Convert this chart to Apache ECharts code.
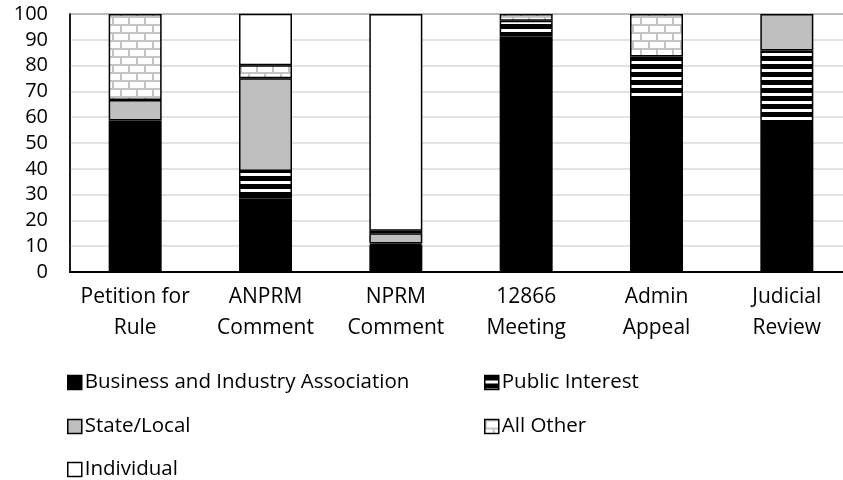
<!DOCTYPE html>
<html>
<head>
<meta charset="utf-8">
<script src="https://cdn.jsdelivr.net/npm/echarts@6/dist/echarts.min.js"></script>
<style>
html,body{margin:0;padding:0;background:#fff;}
#chart{width:843px;height:480px;}
</style>
</head>
<body>
<div id="chart"></div>
<script>
const categories = ['Petition for\nRule', 'ANPRM\nComment', 'NPRM\nComment', '12866\nMeeting', 'Admin\nAppeal', 'Judicial\nReview'];
const business = [58.7, 28.5, 10.5, 91.3, 66.7, 57.4];
const publicInterest = [0, 10.6, 0.5, 6.1, 16.8, 28.5];
const stateLocal = [8, 36, 4, 0, 0, 14.1];
const allOther = [33.3, 5, 1, 2.6, 16.5, 0];
const individual = [0, 20, 84, 0, 0, 0];
const seriesNames = ['Business and Industry Association', 'Public Interest', 'State/Local', 'All Other', 'Individual'];
const yTicks = [0, 10, 20, 30, 40, 50, 60, 70, 80, 90, 100];

const FONT = 'Open Sans';

function stripeCanvas() {
  const c = document.createElement('canvas');
  c.width = 8; c.height = 8;
  const g = c.getContext('2d');
  g.fillStyle = '#fff'; g.fillRect(0, 0, 8, 8);
  g.fillStyle = '#000'; g.fillRect(0, 0, 8, 5);
  return c;
}
function brickCanvas() {
  const c = document.createElement('canvas');
  c.width = 16; c.height = 16;
  const g = c.getContext('2d');
  g.fillStyle = '#fff'; g.fillRect(0, 0, 16, 16);
  g.fillStyle = '#c4c4c4';
  g.fillRect(0, 0, 16, 2);
  g.fillRect(0, 8, 16, 2);
  g.fillRect(0, 0, 2, 8);
  g.fillRect(8, 8, 2, 8);
  return c;
}

const fills = [
  '#000000',
  { image: stripeCanvas(), repeat: 'repeat' },
  '#bfbfbf',
  { image: brickCanvas(), repeat: 'repeat' },
  '#ffffff'
];
const values = [business, publicInterest, stateLocal, allOther, individual];

const chart = echarts.init(document.getElementById('chart'), null, { renderer: 'canvas' });

const series = seriesNames.map((name, i) => ({
  name: name,
  type: 'bar',
  stack: 'total',
  barWidth: 53,
  data: values[i].map(v => (v === 0 ? '-' : v)),
  itemStyle: { color: fills[i], borderColor: '#000', borderWidth: 1.5 },
  emphasis: { disabled: true }
}));

const legendPos = [
  { left: 67, top: 372 },
  { left: 484, top: 372 },
  { left: 67, top: 416 },
  { left: 484, top: 416 },
  { left: 67, top: 459 }
];
const legends = seriesNames.map((name, i) => ({
  data: [name],
  left: legendPos[i].left,
  top: legendPos[i].top,
  padding: 0,
  itemWidth: 14,
  itemHeight: 14,
  itemGap: 0,
  icon: 'rect',
  selectedMode: false,
  itemStyle: { borderColor: '#000', borderWidth: 1.5 },
  textStyle: { fontFamily: FONT, fontSize: 20.5, color: '#000', padding: [0, 0, 0, -2] }
}));

chart.setOption({
  animation: false,
  backgroundColor: '#fff',
  legend: legends,
  grid: {
    left: 70, top: 14, width: 782, height: 258,
    outerBoundsMode: 'none',
    show: true, borderColor: '#3a3a3a', borderWidth: 1.5, backgroundColor: 'transparent'
  },
  xAxis: {
    type: 'category',
    data: categories,
    axisLine: { show: true, lineStyle: { color: '#000', width: 2 } },
    axisTick: { show: false },
    axisLabel: { fontFamily: FONT, fontSize: 21, color: '#000', lineHeight: 31, margin: 10, interval: 0 }
  },
  yAxis: {
    type: 'value',
    min: yTicks[0], max: yTicks[yTicks.length - 1], interval: 10,
    axisLine: { show: true, lineStyle: { color: '#000', width: 1.5 } },
    axisTick: { show: false },
    splitLine: { show: true, lineStyle: { color: '#d9d9d9', width: 1.5 } },
    axisLabel: { fontFamily: FONT, fontSize: 20, color: '#000', margin: 22 }
  },
  series: series
});
</script>
</body>
</html>
